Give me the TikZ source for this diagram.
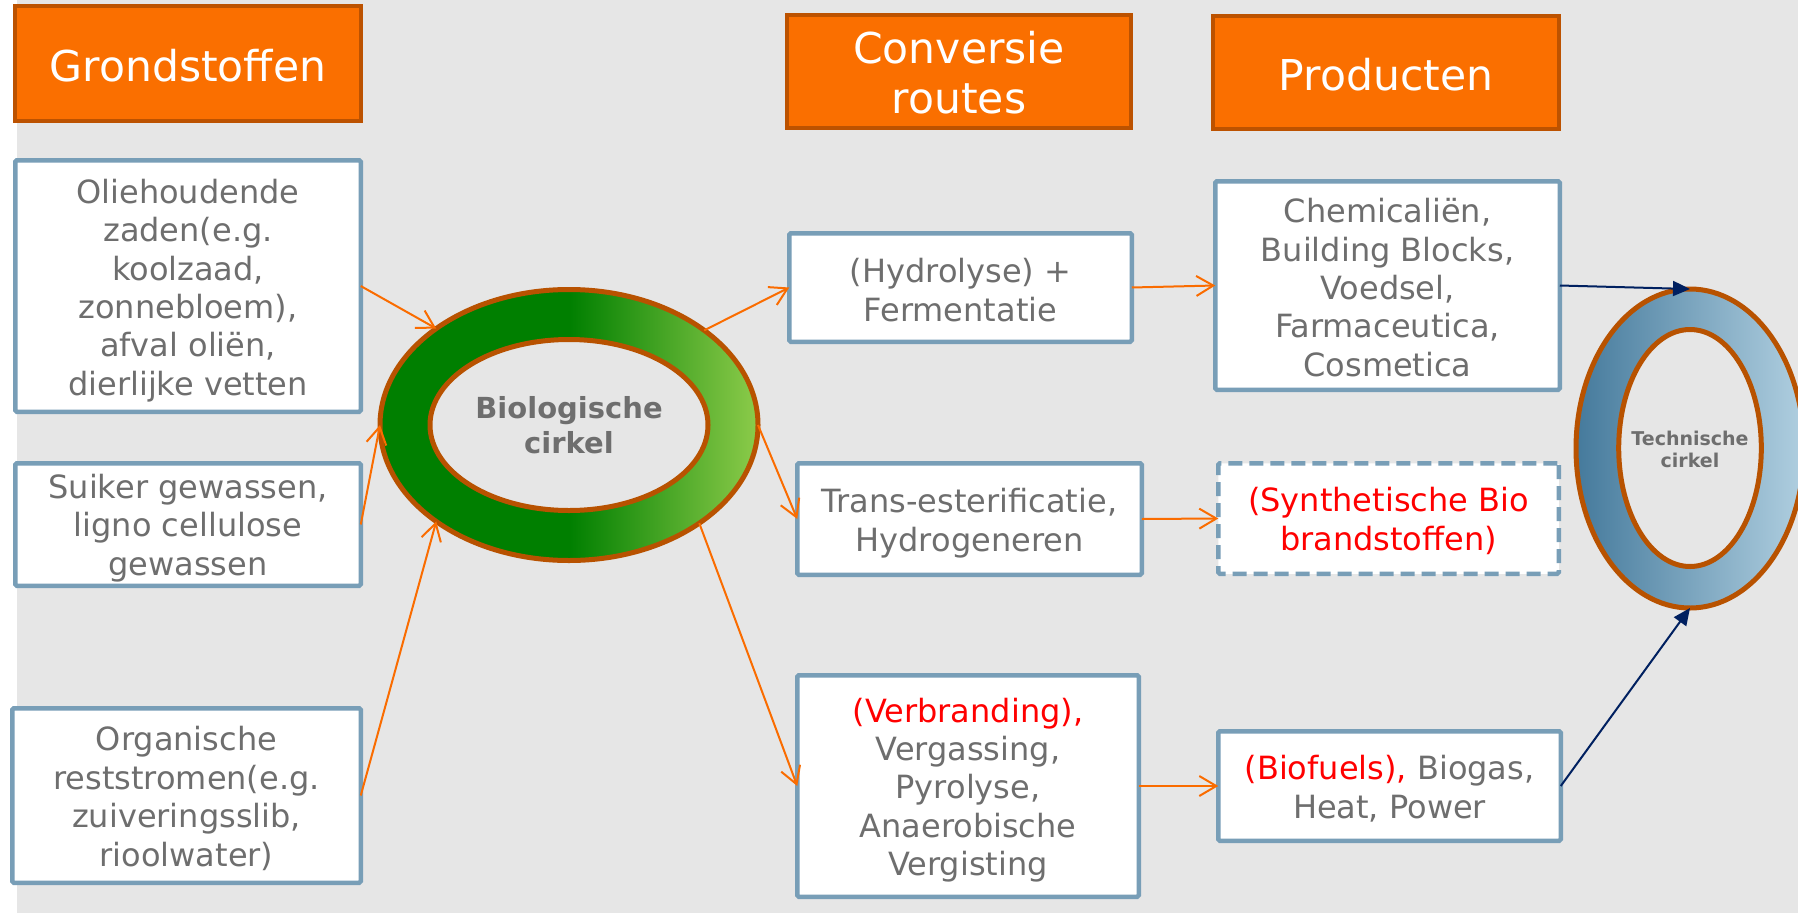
\documentclass[tikz,border=0pt]{standalone}
\usepackage{fontspec}
\setmainfont{DejaVu Sans}
\usetikzlibrary{shapes.geometric,arrows.meta}
\definecolor{bg}{HTML}{E6E6E6}
\definecolor{hdrfill}{HTML}{FA6F00}
\definecolor{hdrline}{HTML}{BC5200}
\definecolor{boxline}{HTML}{789EB7}
\definecolor{txtgray}{HTML}{6E6E6E}
\definecolor{txtred}{HTML}{FF0000}
\definecolor{ringline}{HTML}{B85200}
\definecolor{ringgreen}{HTML}{007F00}
\definecolor{ringlight}{HTML}{8CCB4A}
\definecolor{techdark}{HTML}{457A9C}
\definecolor{techlight}{HTML}{B0CFE0}
\definecolor{arrorange}{HTML}{FA6C00}
\definecolor{navy}{HTML}{002060}
\pgfdeclarehorizontalshading{greenring}{100bp}{color(0bp)=(ringgreen); color(50bp)=(ringgreen); color(75bp)=(ringlight); color(100bp)=(ringlight)}
\begin{document}
\begin{tikzpicture}[x=1pt,y=-1pt,
  hdr/.style={draw=hdrline, fill=hdrfill, line width=4pt, inner sep=0pt, outer sep=0pt},
  hdrtxt/.style={align=center, text=white, inner sep=0pt, font=\fontsize{42.5}{50}\selectfont},
  box/.style={draw=boxline, fill=white, line width=4.5pt, inner sep=0pt, outer sep=0pt, rounded corners=1.5pt},
  dashbox/.style={box, dash pattern=on 14pt off 7pt},
  txt/.style={align=center, text=txtgray, inner sep=0pt, font=\fontsize{32}{38.4}\selectfont},
  ring/.style={ellipse, draw=ringline, line width=5pt, inner sep=0pt, outer sep=0pt},
  ringtext/.style={align=center, text=txtgray, inner sep=0pt},
  oarrow/.style={draw=arrorange, line width=2pt, -{Straight Barb[length=17pt,width=20pt]}},
  narrow/.style={draw=navy, line width=2pt, -{Triangle[length=17pt,width=15pt]}}
]
\useasboundingbox (0,0) rectangle (1798,913);
\fill[white] (0,0) rectangle (1798,913);
\fill[bg] (17,0) rectangle (1798,913);

% headers
\node[hdr, minimum width=346pt, minimum height=115pt] (hG) at (188,63.5) {};
\node[hdrtxt] (hGt) at ([yshift=-2pt]hG.center) {Grondstoffen};
\node[hdr, minimum width=344pt, minimum height=113pt] (hC) at (959,71.5) {};
\node[hdrtxt] (hCt) at ([yshift=-1.5pt]hC.center) {Conversie\\routes};
\node[hdr, minimum width=346pt, minimum height=113pt] (hP) at (1386,72.5) {};
\node[hdrtxt] (hPt) at ([yshift=-2pt]hP.center) {Producten};

% left column
\node[box, minimum width=345.5pt, minimum height=251.5pt] (bOlie) at (188,286) {};
\node[txt] (bOliet) at ([yshift=-4.5pt]bOlie.center)
  {Oliehoudende\\zaden(e.g.\\koolzaad,\\zonnebloem),\\afval oliën,\\dierlijke vetten};
\node[box, minimum width=345.5pt, minimum height=122.5pt] (bSuiker) at (188,524.5) {};
\node[txt] (bSuikert) at ([yshift=-3.5pt]bSuiker.center)
  {Suiker gewassen,\\ligno cellulose\\gewassen};
\node[box, minimum width=348.5pt, minimum height=174.5pt] (bOrg) at (186.5,795.5) {};
\node[txt] (bOrgt) at ([yshift=-3pt]bOrg.center)
  {Organische\\reststromen(e.g.\\zuiveringsslib,\\rioolwater)};

% middle column
\node[box, minimum width=342.5pt, minimum height=108.5pt] (bHydro) at (960.5,287.5) {};
\node[txt] (bHydrot) at ([yshift=-2.5pt]bHydro.center) {(Hydrolyse) +\\Fermentatie};
\node[box, minimum width=344.5pt, minimum height=111.5pt] (bTrans) at (969.5,519) {};
\node[txt] (bTranst) at ([yshift=-4pt]bTrans.center) {Trans-esterificatie,\\Hydrogeneren};
\node[box, minimum width=341.5pt, minimum height=221.5pt] (bVerb) at (968,786) {};
\node[txt] (bVerbt) at ([yshift=-4pt]bVerb.center)
  {\textcolor{txtred}{(Verbranding),}\\Vergassing,\\Pyrolyse,\\Anaerobische\\Vergisting};

% right column
\node[box, minimum width=344.5pt, minimum height=208.5pt] (bChem) at (1387.5,285.5) {};
\node[txt] (bChemt) at ([yshift=-2pt]bChem.center)
  {Chemicaliën,\\Building Blocks,\\Voedsel,\\Farmaceutica,\\Cosmetica};
\node[dashbox, minimum width=340.5pt, minimum height=110.5pt] (bSynth) at (1388.5,518.5) {};
\node[txt, text=txtred] (bSyntht) at ([yshift=-2.5pt]bSynth.center)
  {(Synthetische Bio\\brandstoffen)};
\node[box, minimum width=342.5pt, minimum height=109.5pt] (bBio) at (1389.5,786) {};
\node[txt] (bBiot) at ([yshift=-2.5pt]bBio.center)
  {\textcolor{txtred}{(Biofuels),} Biogas,\\Heat, Power};

% biological ring
\node[ring, shade, shading=greenring, minimum width=378pt, minimum height=271pt] (bioOut) at (569,425) {};
\node[ring, fill=bg, minimum width=278pt, minimum height=171pt] (bioIn) at (569,425) {};
\node[ringtext, font=\bfseries\fontsize{29}{35}\selectfont] (bioTxt) at (569,425.5) {Biologische\\cirkel};

% technical ring
\node[ring, left color=techdark, right color=techlight, minimum width=228pt, minimum height=319pt] (techOut) at (1690,448.5) {};
\node[ring, fill=bg, minimum width=142.6pt, minimum height=237pt] (techIn) at (1690,448) {};
\node[ringtext, font=\bfseries\fontsize{19}{22.5}\selectfont] (techTxt) at (1690,449.5) {Technische\\cirkel};

% orange connectors
\draw[oarrow] (bOlie.east) -- (bioOut.144.5);
\draw[oarrow] (bSuiker.east) -- (bioOut.west);
\draw[oarrow] (bOrg.east) -- (bioOut.216.2);
\draw[oarrow] (bioOut.35.9) -- (bHydro.west);
\draw[oarrow] (bioOut.east) -- (bTrans.west);
\draw[oarrow] (bioOut.323.8) -- (bVerb.west);
\draw[oarrow] (bHydro.east) -- (bChem.west);
\draw[oarrow] (bTrans.east) -- (bSynth.west);
\draw[oarrow] (bVerb.east) -- (bBio.west);

% navy connectors
\draw[narrow] (bChem.east) -- (techOut.north);
\draw[narrow] (bBio.east) -- (techOut.south);
\end{tikzpicture}
\end{document}
